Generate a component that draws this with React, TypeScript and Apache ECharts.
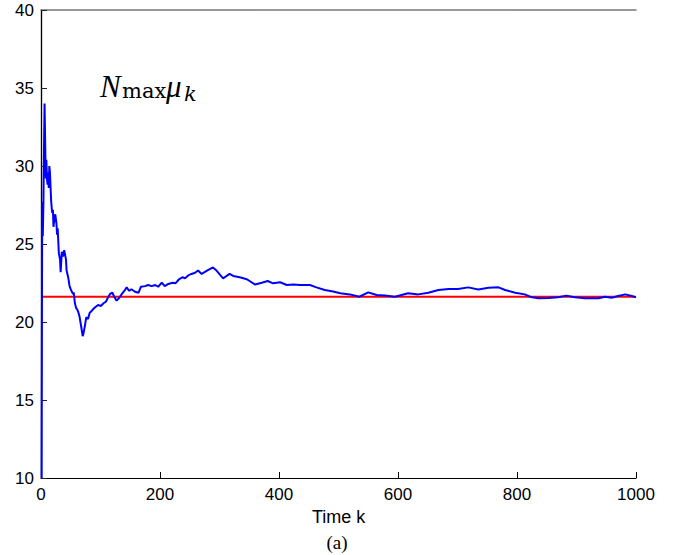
import React, { useEffect, useRef } from "react";
import * as echarts from "echarts";

const kValues = [1,2,3,4,5,6,7,8,9,10,11,12,13,14,15,16,17,18,19,20,21,23,24,26,27,28,30,32,33,35,37,39,40,42,43,46,48,51,54,55,57,59,61,63,65,68,70,71,74,76,79,82,85,87,91,96,101,105,109,112,116,120,123,127,131,136,141,144,148,152,158,164,168,175,180,186,192,197,203,208,214,221,226,232,238,242,248,253,259,264,270,279,289,295,306,317,323,334,346,360,371,381,390,402,413,424,435,452,463,477,491,503,519,535,550,564,578,595,617,634,651,668,685,701,718,735,752,769,780,797,813,825,836,853,869,883,897,914,937,948,959,970,982,993,1000];
const muValues = [10,27.7,25.5,27.5,31,34.0,31.5,29.2,30.4,29.2,28.8,29.6,28.6,30.0,29.6,28.7,27.8,27.3,27.0,27.2,26.1,26.8,26.9,26.3,25.6,26.0,24.4,24.0,23.2,24.5,24.2,24.6,24.6,24.0,23.3,22.8,22.3,22.0,21.8,21.9,21.2,20.9,20.8,20.6,20.3,19.6,19.1,19.2,19.8,20.3,20.2,20.6,20.7,20.8,20.94,21.09,21.03,21.2,21.3,21.52,21.8,21.88,21.62,21.37,21.52,21.8,22.05,22.22,22.0,22.1,21.94,21.88,22.26,22.3,22.37,22.3,22.37,22.26,22.52,22.3,22.44,22.52,22.48,22.74,22.87,22.8,23.0,23.08,23.16,23.3,23.08,23.29,23.5,23.3,22.8,23.08,22.95,22.87,22.74,22.4,22.52,22.63,22.48,22.55,22.37,22.4,22.37,22.37,22.22,22.05,21.95,21.84,21.77,21.62,21.9,21.73,21.7,21.62,21.84,21.77,21.88,22.05,22.12,22.12,22.22,22.09,22.2,22.22,22.05,21.88,21.77,21.58,21.52,21.54,21.58,21.69,21.58,21.52,21.52,21.62,21.56,21.67,21.77,21.67,21.58];

const refK = [0, 1000];
const refValues = [21.62, 21.62];

const xTicks = { min: 0, max: 1000, interval: 200 };
const yTicks = { min: 10, max: 40, interval: 5 };

export default function App() {
  const ref = useRef<HTMLDivElement>(null);
  useEffect(() => {
    if (!ref.current) return;
    const chart = echarts.init(ref.current, null, { renderer: "svg" });
    const labelFont = { fontFamily: "Liberation Sans", fontSize: 17, color: "#000" };
    const txt = (text: string, x: number, y: number, fontFamily: string, fontSize: number, fontStyle: string, align = "left") => ({
      type: "text", x, y,
      style: { text, fontFamily, fontSize, fontStyle, fill: "#000", align, verticalAlign: "middle" },
    });
    chart.setOption({
      animation: false,
      backgroundColor: "#fff",
      grid: { left: 41, top: 10, width: 595, height: 468, containLabel: false },
      xAxis: [
        {
          type: "value", ...xTicks, position: "bottom",
          axisLine: { show: true, lineStyle: { color: "#000", width: 1.2 } },
          axisTick: { show: true, inside: true, length: 6, lineStyle: { color: "#000" } },
          axisLabel: { ...labelFont, margin: 8, formatter: (v: number) => String(v) },
          splitLine: { show: false },
        },
        {
          type: "value", ...xTicks, position: "top",
          axisLine: { show: true, lineStyle: { color: "#777", width: 1.5 } },
          axisTick: { show: false }, axisLabel: { show: false }, splitLine: { show: false },
        },
      ],
      yAxis: [
        {
          type: "value", ...yTicks, position: "left",
          axisLine: { show: true, lineStyle: { color: "#222", width: 1.2 } },
          axisTick: { show: true, inside: true, length: 6, lineStyle: { color: "#222" } },
          axisLabel: { ...labelFont, margin: 7 },
          splitLine: { show: false },
        },
        {
          type: "value", ...yTicks, position: "right",
          axisLine: { show: true, lineStyle: { color: "#000", width: 1.2 } },
          axisTick: { show: false }, axisLabel: { show: false }, splitLine: { show: false },
        },
      ],
      series: [
        {
          type: "line",
          data: refK.map((k, i) => [k, refValues[i]]),
          showSymbol: false,
          lineStyle: { color: "#ff0000", width: 1.8 },
          z: 2,
        },
        {
          type: "line",
          data: kValues.map((k, i) => [k, muValues[i]]),
          showSymbol: false,
          lineStyle: { color: "#0000ff", width: 2 },
          z: 3,
        },
      ],
      graphic: [
        txt("N", 100, 86.4, "Liberation Serif", 31, "italic"),
        txt("max", 122, 91.3, "DejaVu Serif", 21, "normal"),
        txt("μ", 166, 86.4, "Liberation Serif", 31, "italic"),
        txt("k", 184, 94, "DejaVu Serif", 21, "italic"),
        txt("Time k", 338.7, 516.7, "Liberation Sans", 18, "normal", "center"),
        txt("(a)", 337, 542.7, "Liberation Serif", 19, "normal", "center"),
      ],
    });
    return () => chart.dispose();
  }, []);
  return <div ref={ref} style={{ position: "fixed", left: 0, top: 0, width: 676, height: 555 }} />;
}
